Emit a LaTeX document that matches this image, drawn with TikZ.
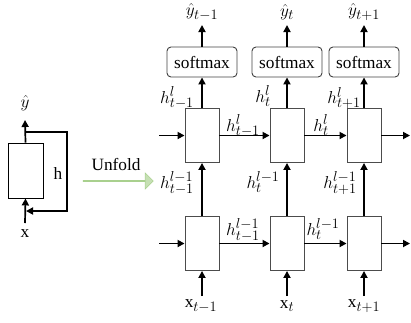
\documentclass[tikz,border=0pt]{standalone}
\usepackage{fontspec}
\setmainfont{Liberation Serif}
\DeclareMathSizes{17.28}{17.28}{14.4}{12}
\usetikzlibrary{arrows.meta,shapes.arrows}
\definecolor{arrfill}{HTML}{C6E0B4}
\definecolor{arrdraw}{HTML}{A9D08E}
\tikzset{
  cell/.style={draw=black!70, line width=0.9pt, minimum width=34pt, minimum height=54pt, inner sep=0pt},
  smx/.style={draw=black!75, line width=0.9pt, rounded corners=4pt, minimum width=70pt, minimum height=30pt, inner sep=0pt, font=\fontsize{17.28}{20}\selectfont},
  arr/.style={line width=1.7pt, -{Triangle[length=7pt,width=7pt]}},
  lbl/.style={inner sep=0pt, font=\fontsize{17.28}{20}\selectfont},
}
\begin{document}
\begin{tikzpicture}[x=1pt,y=-1pt]
\useasboundingbox (0,0) rectangle (411,322);
% left folded RNN
\node[draw=black, line width=0.9pt, minimum width=35pt, minimum height=55pt, inner sep=0pt] (L) at (25.5,170.5) {};
\node[lbl] (Lyh) at (25,103) {$\hat{y}$};
\node[lbl] (Lx) at (25,234) {x};
\node[lbl] (Lh) at (58,173) {h};
\coordinate (Lout) at (25,120);
\coordinate (Lin) at (25,223);
\coordinate (Ls) at (25,132);
\coordinate (Lr1) at (67,132);
\coordinate (Lr2) at (67,211);
\coordinate (Le) at (26,211);
\draw[arr] (L.north) -- (Lout);
\draw[arr] (Lin) -- (L.south);
\draw[arr] (Ls) -- (Lr1) -- (Lr2) -- (Le);
% unfold arrow
\node[lbl] (unf) at (116,164) {Unfold};
\node[single arrow, fill=arrfill, draw=arrdraw, line width=0.6pt, minimum height=70pt, minimum width=16pt, single arrow head extend=4.5pt, inner sep=0pt] (ua) at (118,181) {};
% unfolded cells
\foreach \n/\c in {1/202,2/287,3/364}{
  \node[cell] (U\n) at (\c,135.5) {};
  \node[cell] (D\n) at (\c,243.5) {};
  \node[smx] (S\n) at (\c,62) {softmax};
  \coordinate (Y\n) at (\c,25);
  \coordinate (X\n) at (\c,296);
  \draw[arr] (U\n.north) -- (S\n.south);
  \draw[arr] (S\n.north) -- (Y\n);
  \draw[arr] (D\n.north) -- (U\n.south);
  \draw[arr] (X\n) -- (D\n.south);
}
\coordinate (UinL) at (159,135.5);
\coordinate (UoutR) at (410,135.5);
\coordinate (DinL) at (159,243.5);
\coordinate (DoutR) at (410,243.5);
\draw[arr] (UinL) -- (U1.west);
\draw[arr] (U1) -- (U2);
\draw[arr] (U2) -- (U3);
\draw[arr] (U3.east) -- (UoutR);
\draw[arr] (DinL) -- (D1.west);
\draw[arr] (D1) -- (D2);
\draw[arr] (D2) -- (D3);
\draw[arr] (D3.east) -- (DoutR);
% labels
\node[lbl] (y1) at (202,12) {$\hat{y}_{t-1}$};
\node[lbl] (y2) at (287,12) {$\hat{y}_{t}$};
\node[lbl] (y3) at (364,12) {$\hat{y}_{t+1}$};
\node[lbl] (hu1) at (177,98) {$h^{l}_{t-1}$};
\node[lbl] (hu2) at (263,96) {$h^{l}_{t}$};
\node[lbl] (hu3) at (344,98) {$h^{l}_{t+1}$};
\node[lbl] (hh1) at (243,126) {$h^{l}_{t-1}$};
\node[lbl] (hh2) at (321,125) {$h^{l}_{t}$};
\node[lbl] (hv1) at (177,183) {$h^{l-1}_{t-1}$};
\node[lbl] (hv2) at (263,182) {$h^{l-1}_{t}$};
\node[lbl] (hv3) at (340,183) {$h^{l-1}_{t+1}$};
\node[lbl] (hd1) at (243,230) {$h^{l-1}_{t-1}$};
\node[lbl] (hd2) at (323,229) {$h^{l-1}_{t}$};
\node[lbl] (x1) at (201,306) {x$_{t-1}$};
\node[lbl] (x2) at (287,306) {x$_{t}$};
\node[lbl] (x3) at (364,306) {x$_{t+1}$};
\end{tikzpicture}
\end{document}
